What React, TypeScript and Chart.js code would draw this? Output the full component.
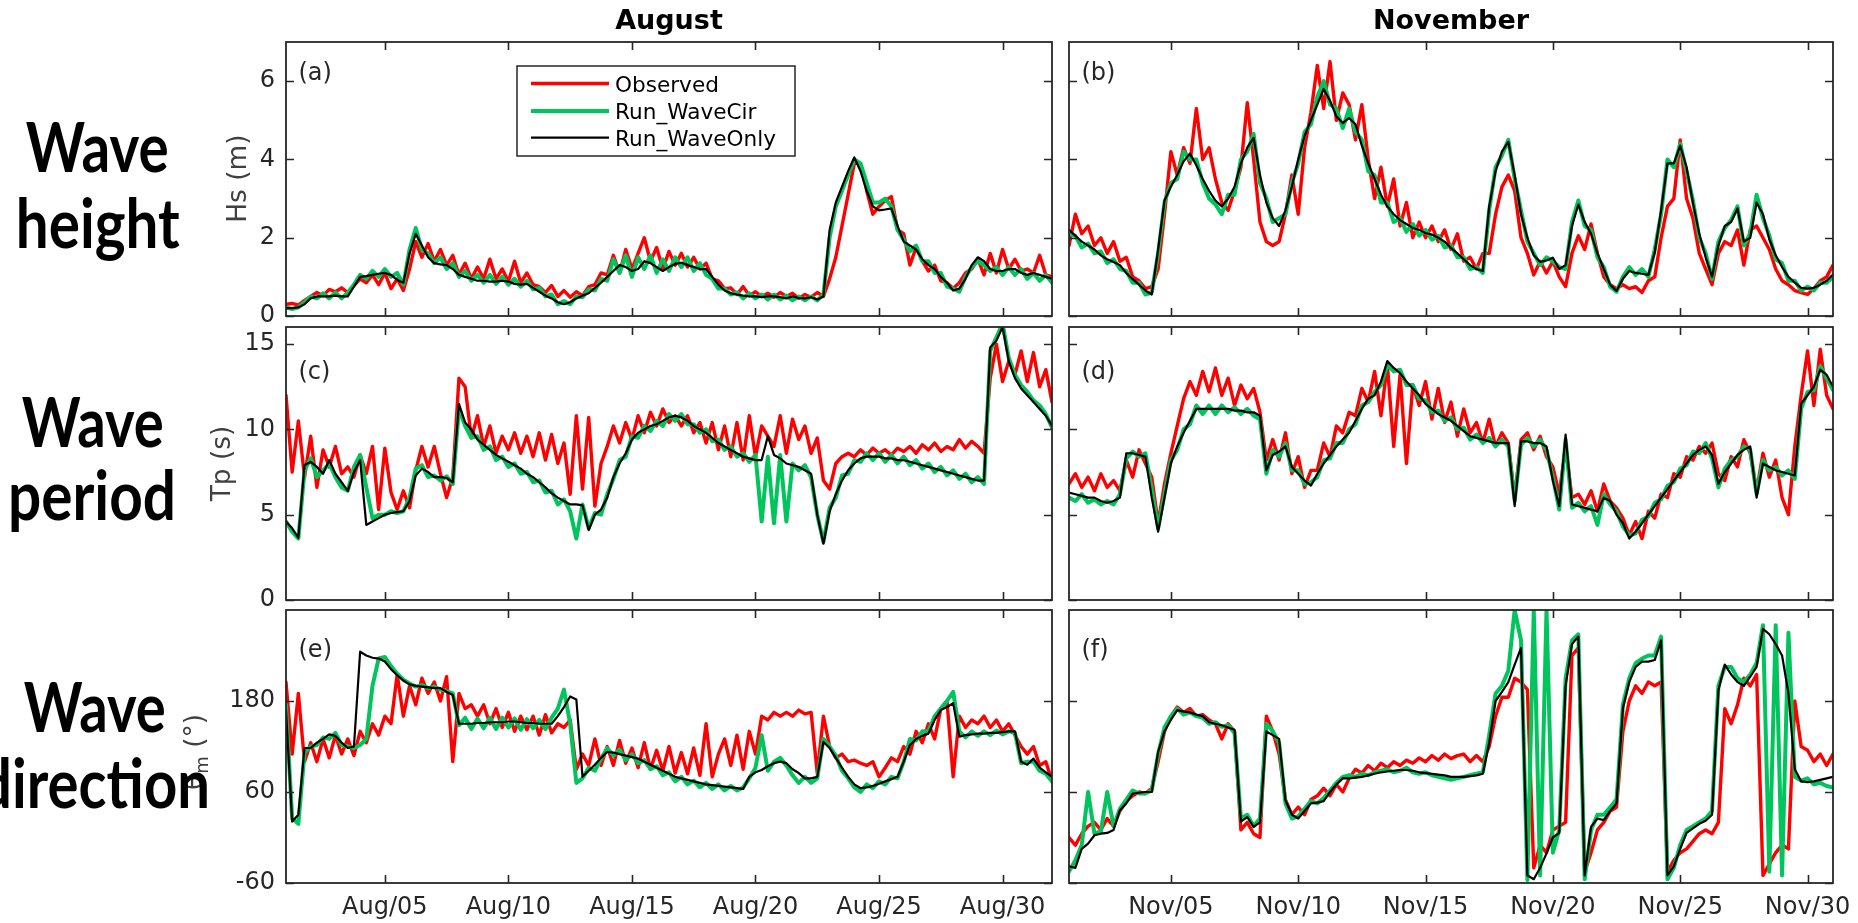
import React, { useEffect, useRef } from "react";
import { Chart, registerables } from "chart.js";

Chart.register(...registerables);

// ---------------- data (4 samples per day, from 00:00 of day 1) ----------------
const SAMPLES_PER_DAY = 4;

const augTickDays = [4, 9, 14, 19, 24, 29];
const augTickLabels = ["Aug/05", "Aug/10", "Aug/15", "Aug/20", "Aug/25", "Aug/30"];
const novTickDays = [4, 9, 14, 19, 24, 29];
const novTickLabels = ["Nov/05", "Nov/10", "Nov/15", "Nov/20", "Nov/25", "Nov/30"];

const hsTicks = [0, 2, 4, 6];
const tpTicks = [0, 5, 10, 15];
const dirTicks = [-60, 60, 180];

const seriesNames = ["Observed", "Run_WaveCir", "Run_WaveOnly"];

// (a) Hs, August
const hsAugObs = [
  0.30,0.32,0.28,0.40, 0.50,0.60,0.52,0.68,
  0.62,0.72,0.60,0.78, 0.95,0.85,1.05,0.80,
  1.10,0.70,0.95,0.65, 1.20,1.90,1.50,1.85,
  1.40,1.70,1.30,1.55, 1.05,1.35,0.95,1.25,
  0.95,1.45,0.95,1.20, 0.88,1.40,0.85,1.10,
  0.80,0.75,0.60,0.78, 0.50,0.65,0.48,0.62,
  0.52,0.75,0.80,1.10, 1.05,1.55,1.10,1.70,
  1.20,1.60,2.00,1.40, 1.75,1.20,1.65,1.30,
  1.60,1.25,1.50,1.20, 1.35,0.95,0.90,0.70,
  0.72,0.55,0.75,0.52, 0.62,0.50,0.58,0.48,
  0.60,0.50,0.58,0.45, 0.55,0.48,0.60,0.50,
  0.95,1.50,2.30,3.10, 3.90,3.90,3.20,2.60,
  2.80,2.95,3.05,2.20, 2.10,1.30,1.75,1.40,
  1.15,1.30,0.90,0.85, 0.70,0.85,1.10,1.20,
  1.45,1.05,1.60,1.10, 1.70,1.20,1.45,1.15,
  1.20,1.10,1.55,1.05, 1.00,
];
const hsAugCir = [
  0.22,0.18,0.22,0.35, 0.50,0.45,0.58,0.45,
  0.60,0.45,0.60,0.80, 1.05,0.95,1.15,1.00,
  1.20,1.00,1.10,0.80, 1.70,2.25,1.70,1.60,
  1.35,1.50,1.20,1.35, 1.00,1.15,0.90,1.05,
  0.85,1.05,0.82,1.00, 0.80,0.95,0.75,0.90,
  0.68,0.72,0.50,0.55, 0.30,0.38,0.30,0.50,
  0.48,0.68,0.65,0.95, 0.90,1.45,1.10,1.55,
  1.00,1.50,1.20,1.55, 1.10,1.45,1.15,1.50,
  1.25,1.50,1.15,1.35, 1.05,0.95,0.70,0.70,
  0.55,0.60,0.45,0.58, 0.45,0.55,0.42,0.55,
  0.42,0.52,0.40,0.50, 0.40,0.50,0.40,0.55,
  2.00,2.80,3.20,3.60, 4.00,3.90,3.40,2.90,
  2.90,3.00,2.80,2.20, 1.95,1.65,1.80,1.40,
  1.40,1.10,1.10,0.75, 0.70,0.62,1.00,1.25,
  1.40,1.30,1.15,1.25, 1.05,1.25,1.05,1.20,
  0.95,1.10,0.90,1.05, 0.85,
];
const hsAugOnly = [
  0.20,0.20,0.22,0.30, 0.45,0.50,0.50,0.50,
  0.52,0.50,0.50,0.75, 1.00,1.02,1.05,1.08,
  1.10,1.05,0.92,0.85, 1.60,2.10,1.80,1.50,
  1.35,1.32,1.30,1.20, 1.05,1.00,0.95,0.90,
  0.90,0.88,0.88,0.90, 0.88,0.82,0.80,0.82,
  0.72,0.62,0.52,0.45, 0.35,0.30,0.35,0.45,
  0.52,0.58,0.72,0.85, 1.00,1.15,1.30,1.25,
  1.15,1.20,1.40,1.35, 1.25,1.15,1.25,1.33,
  1.36,1.30,1.25,1.20, 1.20,1.00,0.80,0.65,
  0.58,0.55,0.52,0.50, 0.50,0.48,0.50,0.50,
  0.48,0.45,0.50,0.46, 0.45,0.48,0.42,0.50,
  2.20,2.90,3.30,3.70, 4.05,3.70,3.20,2.80,
  2.70,2.72,2.75,2.30, 1.90,1.80,1.70,1.45,
  1.30,1.20,1.00,0.85, 0.65,0.70,0.95,1.30,
  1.50,1.40,1.20,1.15, 1.15,1.20,1.20,1.10,
  1.05,1.10,1.05,1.00, 0.95,
];

// (b) Hs, November
const hsNovObs = [
  1.80,2.60,2.10,2.30, 1.80,2.00,1.60,1.90,
  1.40,1.50,1.00,0.90, 0.70,0.75,1.20,2.60,
  4.20,3.60,4.30,3.90, 5.30,4.00,4.30,3.50,
  2.90,2.70,3.20,3.80, 5.45,4.00,2.40,1.90,
  1.80,1.90,2.60,3.60, 2.60,4.30,5.20,6.40,
  5.30,6.50,5.00,5.70, 5.40,4.50,5.40,4.00,
  3.00,3.80,2.80,3.50, 2.30,2.90,2.00,2.40,
  2.00,2.30,1.90,2.20, 1.70,2.10,1.40,1.50,
  1.20,1.60,1.60,2.60, 3.30,3.60,3.20,2.00,
  1.60,1.05,1.40,1.10, 1.40,1.00,0.75,1.60,
  2.05,1.70,2.35,1.60, 1.00,0.80,0.70,0.80,
  0.70,0.75,0.60,0.90, 1.00,2.00,2.80,3.00,
  4.50,3.00,2.50,1.60, 1.20,0.80,1.60,1.90,
  1.80,2.20,1.30,2.20, 2.30,2.00,1.70,1.20,
  0.90,0.80,0.65,0.60, 0.55,0.70,0.90,1.00,
  1.30,
];
const hsNovCir = [
  2.10,2.05,1.75,1.85, 1.60,1.65,1.35,1.45,
  1.20,1.15,0.85,0.85, 0.55,0.60,1.60,2.90,
  3.40,3.50,4.20,4.00, 4.00,3.40,3.00,2.85,
  2.60,3.10,3.10,4.00, 4.20,4.65,3.40,3.00,
  2.40,2.50,2.60,3.40, 3.90,4.70,4.90,5.60,
  6.00,5.40,5.30,4.80, 5.30,4.70,4.50,3.70,
  3.60,2.90,2.90,2.40, 2.50,2.15,2.35,2.05,
  2.20,1.95,2.05,1.75, 1.80,1.50,1.50,1.20,
  1.25,1.10,2.70,3.80, 4.10,4.50,3.50,2.70,
  1.90,1.60,1.30,1.50, 1.40,1.25,1.20,2.40,
  2.95,2.30,2.20,1.50, 1.25,0.75,0.62,1.00,
  1.25,1.05,1.20,1.00, 1.70,2.60,4.00,3.80,
  4.40,3.70,2.95,2.00, 1.60,0.95,1.90,2.25,
  2.45,2.80,1.80,2.10, 3.10,2.50,2.05,1.45,
  1.35,0.90,0.90,0.65, 0.75,0.65,0.85,0.85,
  1.00,
];
const hsNovOnly = [
  2.20,2.05,1.90,1.80, 1.70,1.55,1.45,1.38,
  1.30,1.10,0.94,0.80, 0.65,0.55,1.70,2.95,
  3.30,3.60,3.95,4.15, 3.85,3.50,3.20,2.95,
  2.80,3.00,3.30,3.90, 4.30,4.55,3.60,2.90,
  2.50,2.30,2.70,3.30, 4.00,4.60,5.00,5.40,
  5.80,5.50,5.10,4.93, 5.06,4.90,4.35,3.90,
  3.50,3.10,2.80,2.60, 2.45,2.35,2.25,2.20,
  2.12,2.08,2.00,1.90, 1.74,1.60,1.45,1.30,
  1.20,1.15,2.80,3.70, 4.20,4.45,3.60,2.60,
  2.00,1.55,1.38,1.42, 1.49,1.20,1.30,2.30,
  2.85,2.40,2.10,1.60, 1.20,0.80,0.64,0.95,
  1.15,1.10,1.08,1.05, 1.62,2.70,3.90,3.90,
  4.35,3.80,2.89,2.10, 1.50,1.00,1.80,2.30,
  2.40,2.75,1.90,2.00, 2.90,2.60,1.96,1.55,
  1.25,1.00,0.85,0.72, 0.70,0.72,0.80,0.90,
  1.06,
];

// (c) Tp, August
const tpAugObs = [
  12.0,7.5,10.5,7.2, 9.6,6.6,8.8,7.8,
  9.0,7.4,7.8,7.2, 8.5,7.4,9.0,5.3,
  8.9,6.3,5.3,6.4, 5.4,7.6,9.0,7.8,
  9.0,7.4,6.0,7.2, 13.0,12.5,9.5,10.8,
  9.0,10.2,8.6,9.6, 8.8,9.8,8.6,9.6,
  8.4,9.8,8.2,9.7, 8.0,9.2,6.2,10.8,
  6.5,10.7,5.5,8.0, 9.0,10.2,9.2,10.4,
  9.4,10.8,9.8,11.0, 10.2,11.2,10.4,10.8,
  10.2,10.8,9.8,10.4, 9.2,10.4,8.8,10.2,
  8.4,10.4,8.2,10.8, 8.4,10.2,9.6,9.0,
  10.8,8.6,10.6,9.4, 10.2,8.6,9.5,7.0,
  6.5,8.0,8.4,8.6, 8.4,8.8,8.5,8.9,
  8.6,8.8,8.5,8.9, 8.7,9.0,8.6,9.1,
  8.8,9.2,8.7,9.0, 8.8,9.4,8.9,9.3,
  9.0,8.6,13.0,15.0, 12.8,14.0,13.2,14.6,
  12.8,14.5,12.5,13.5, 11.6,
];
const tpAugCir = [
  4.60,4.00,3.60,7.60, 8.30,7.20,7.60,8.00,
  7.20,6.60,6.40,7.80, 8.50,6.60,4.80,5.00,
  5.00,5.20,5.10,5.20, 6.00,7.70,7.90,7.20,
  7.30,7.00,7.25,6.80, 11.20,10.20,9.50,9.60,
  8.80,9.00,8.20,8.40, 7.80,8.00,7.40,7.50,
  6.90,7.00,6.30,6.40, 5.60,5.90,5.20,3.60,
  5.60,4.20,5.10,5.00, 6.20,7.10,8.20,8.40,
  9.60,9.50,10.20,9.90, 10.50,10.20,10.90,10.50,
  10.90,10.30,10.30,9.80, 10.00,9.30,9.40,8.80,
  9.00,8.40,8.60,8.10, 8.50,4.60,8.40,4.50,
  8.50,4.60,8.00,7.60, 7.90,7.20,5.00,3.40,
  5.40,6.00,7.30,7.40, 8.20,8.10,8.60,8.20,
  8.60,8.10,8.50,8.00, 8.40,7.90,8.20,7.70,
  8.00,7.50,7.80,7.30, 7.60,7.10,7.40,6.90,
  7.20,6.80,14.60,15.40, 16.20,14.20,13.20,12.60,
  12.20,11.70,11.40,10.90, 10.10,
];
const tpAugOnly = [
  4.60,4.20,3.65,7.90, 8.10,7.80,7.40,8.20,
  7.40,6.90,6.40,7.50, 8.20,4.40,4.60,4.80,
  5.00,5.10,5.15,5.20, 5.80,7.30,7.70,7.50,
  7.20,7.20,7.15,6.90, 11.50,10.40,10.00,9.40,
  9.10,8.80,8.50,8.30, 8.10,7.90,7.70,7.40,
  7.20,6.90,6.60,6.25, 6.00,5.80,5.60,5.60,
  5.55,4.10,5.00,5.30, 6.00,7.20,8.00,8.60,
  9.40,9.80,10.00,10.20, 10.30,10.50,10.70,10.80,
  10.70,10.50,10.20,10.00, 9.80,9.50,9.20,9.00,
  8.80,8.60,8.40,8.30, 8.20,8.20,9.60,8.50,
  8.30,8.00,7.90,7.80, 7.60,7.40,5.00,3.30,
  5.20,6.20,7.00,7.60, 8.00,8.30,8.40,8.40,
  8.40,8.30,8.30,8.20, 8.20,8.10,8.00,7.90,
  7.80,7.70,7.60,7.50, 7.40,7.30,7.20,7.10,
  7.00,7.00,14.80,15.20, 16.00,14.00,13.00,12.40,
  12.00,11.60,11.20,10.80, 10.20,
];

// (d) Tp, November
const tpNovObs = [
  6.8,7.4,6.6,7.2, 6.4,7.4,6.6,7.0,
  6.4,8.2,7.2,8.8, 8.0,7.2,4.5,6.8,
  8.6,10.2,11.8,12.8, 12.0,13.4,12.2,13.6,
  12.0,13.0,11.4,12.6, 11.8,12.4,11.0,8.2,
  9.4,8.2,9.8,7.4, 8.4,6.6,7.6,7.6,
  9.2,8.4,10.2,9.8, 11.0,10.8,12.4,11.6,
  13.4,10.8,13.8,9.0, 13.2,8.0,12.6,11.4,
  12.8,10.6,12.4,10.4, 11.6,9.6,11.2,9.8,
  10.4,9.2,10.6,9.0, 9.8,9.2,6.0,9.4,
  9.8,8.8,9.6,8.4, 7.8,6.2,9.0,6.0,
  6.2,5.6,6.4,5.2, 6.8,5.8,5.4,4.8,
  3.8,4.6,3.6,5.2, 4.8,6.2,6.0,7.4,
  7.2,8.4,8.2,9.0, 8.6,9.2,7.4,7.0,
  8.4,7.8,9.4,8.6, 6.4,8.6,7.2,8.2,
  6.0,5.0,9.0,12.0, 14.6,11.4,14.7,12.0,
  11.2,
];
const tpNovCir = [
  6.0,5.8,6.2,5.7, 5.9,5.6,5.8,5.6,
  6.2,8.3,8.7,8.4, 8.6,6.5,4.2,6.2,
  8.2,8.8,10.0,10.3, 11.4,10.9,11.4,10.9,
  11.4,11.0,11.3,10.9, 11.2,10.8,10.6,7.4,
  8.8,8.4,9.2,7.6, 7.6,6.8,6.9,7.2,
  8.2,8.3,9.2,9.2, 10.0,10.3,11.4,11.6,
  12.2,12.6,13.8,13.4, 13.5,12.6,12.6,11.8,
  11.7,11.0,11.1,10.5, 10.7,10.0,10.1,9.4,
  9.7,9.2,9.5,9.0, 9.4,9.0,5.8,9.1,
  9.5,9.0,9.4,8.8, 7.2,5.3,9.4,5.4,
  5.7,5.2,5.5,4.4, 6.2,5.6,5.2,4.3,
  3.8,3.9,4.7,4.9, 5.7,5.9,6.7,6.9,
  7.7,7.9,8.7,8.6, 9.2,8.3,6.6,7.7,
  8.2,8.4,9.0,8.8, 6.2,8.2,7.6,7.8,
  7.3,7.6,7.1,11.2, 12.2,12.3,13.7,13.0,
  12.3,
];
const tpNovOnly = [
  6.3,6.2,6.1,6.0, 6.0,5.8,5.7,5.8,
  6.0,8.6,8.6,8.5, 8.4,6.0,4.0,6.0,
  8.0,9.0,9.8,10.5, 11.2,11.2,11.2,11.2,
  11.2,11.2,11.1,11.1, 11.0,11.0,10.8,7.6,
  8.5,8.7,9.0,7.8, 7.4,7.0,6.7,7.4,
  8.0,8.5,9.0,9.4, 9.8,10.5,11.2,11.8,
  12.0,12.8,14.0,13.6, 13.3,12.8,12.4,12.0,
  11.5,11.2,10.9,10.7, 10.5,10.2,9.9,9.6,
  9.5,9.4,9.3,9.2, 9.2,9.2,5.5,9.3,
  9.3,9.2,9.2,9.0, 7.0,5.5,9.7,5.6,
  5.5,5.4,5.3,5.2, 6.0,5.8,5.0,4.5,
  3.6,4.0,4.5,5.0, 5.5,6.0,6.5,7.0,
  7.5,8.0,8.5,8.8, 9.0,8.5,6.8,7.5,
  8.0,8.5,8.8,9.0, 6.0,8.0,7.8,7.6,
  7.5,7.4,7.3,11.5, 12.0,12.5,13.5,13.2,
  12.5,
];

// (e) mean direction, August
const dirAugObs = [
  205,110,190,100, 125,100,130,105,
  135,110,130,108, 140,125,150,135,
  160,150,215,160, 200,175,210,190,
  205,180,212,100, 190,170,175,160,
  175,150,170,145, 165,140,160,142,
  160,135,162,138, 150,145,155,90,
  110,95,130,95, 120,95,128,98,
  118,92,125,90, 115,88,120,85,
  112,84,118,82, 150,80,110,130,
  95,135,90,140, 110,160,155,165,
  160,165,160,168, 163,165,85,160,
  120,105,110,100, 102,98,95,100,
  80,92,105,100, 120,110,140,125,
  150,130,170,180, 80,160,145,155,
  150,160,145,155, 140,150,135,120,
  110,120,95,100, 75,
];
const dirAugCir = [
  175,25,18,112, 120,122,132,130,
  138,122,120,118, 122,130,200,236,
  238,226,216,208, 203,199,201,197,
  199,195,193,190, 148,158,143,157,
  144,158,143,158, 145,157,142,156,
  144,155,143,158, 170,195,150,72,
  78,92,88,104, 118,108,116,102,
  110,98,102,90, 94,82,86,74,
  80,70,75,66, 72,64,70,62,
  68,62,66,78, 92,135,88,100,
  105,95,82,72, 80,72,78,130,
  120,108,88,78, 66,60,70,65,
  74,70,80,78, 100,130,128,140,
  140,160,170,180, 192,140,132,140,
  134,140,135,141, 136,140,138,98,
  100,100,88,84, 74,
];
const dirAugOnly = [
  168,21,30,118, 118,125,130,136,
  134,125,118,120, 245,240,237,236,
  232,222,214,207, 202,200,199,198,
  197,197,192,188, 150,150,150,151,
  151,152,152,152, 153,153,152,151,
  151,150,150,150, 160,172,186,182,
  80,88,96,105, 113,112,110,108,
  106,104,100,96, 92,88,84,80,
  78,76,74,72, 70,69,68,67,
  66,65,64,80, 86,89,94,98,
  100,98,90,85, 78,78,80,126,
  118,105,92,80, 70,65,66,68,
  71,74,77,80, 100,122,130,134,
  137,155,168,172, 177,133,135,136,
  137,137,138,138, 139,140,140,100,
  96,104,92,86, 80,
];

// (f) mean direction, November
const dirNovObs = [
  0,-10,5,15, 20,10,25,15,
  35,48,55,60, 58,65,100,140,
  160,172,165,170, 160,162,155,150,
  130,150,140,10, 20,5,0,160,
  140,110,50,30, 40,30,50,55,
  65,55,70,60, 78,90,85,95,
  88,98,92,100, 95,102,98,105,
  100,108,102,110, 104,108,110,100,
  108,100,120,160, 185,185,210,205,
  195,-40,-10,-20, 10,15,20,240,
  250,-45,-20,10, 20,35,40,140,
  180,200,190,205, 200,205,-45,-30,
  -20,-15,-5,5, 10,5,20,170,
  150,175,210,200, 215,-50,-35,-20,
  -10,-15,180,120, 115,100,110,95,
  110,
];
const dirNovCir = [
  -45,-30,-10,60, 5,8,60,15,
  38,50,62,58, 58,62,110,145,
  160,170,162,165, 160,158,150,152,
  146,148,138,25, 30,15,25,150,
  140,125,45,25, 28,38,48,45,
  52,62,72,80, 82,80,84,82,
  86,88,90,86, 88,92,86,84,
  86,82,80,78, 76,78,80,82,
  84,86,135,190, 200,220,300,260,
  -56,300,-50,300, -20,10,210,260,
  268,-55,10,30, 30,40,50,175,
  210,230,236,240, 240,265,-55,-40,
  -10,10,15,20, 25,35,200,225,
  225,210,205,215, 230,280,-45,280,
  -50,270,80,75, 78,70,72,68,
  66,
];
const dirNovOnly = [
  -38,-40,-15,-8, 3,5,6,10,
  36,45,58,59, 60,60,113,140,
  155,168,166,165, 162,160,152,150,
  148,145,142,21, 27,14,20,140,
  135,130,49,30, 25,35,45,46,
  48,60,70,78, 78,79,80,82,
  84,86,87,88, 89,89,88,86,
  85,84,83,82, 80,80,80,81,
  82,84,125,180, 192,205,228,250,
  -50,-55,-40,-21, 0,6,200,255,
  265,-50,14,25, 23,35,45,170,
  205,225,232,232, 234,260,-50,-38,
  -15,6,12,18, 22,30,194,228,
  215,205,200,212, 225,275,268,255,
  240,190,90,74, 73,74,76,78,
  80,
];

// ---------------- styling / layout ----------------
const RED = "#ff0000";
const GREEN = "#00c45c";
const BLACK = "#000000";
const AXIS = "#262626";
const LABEL_GRAY = "#404040";
const TICK_FONT = "'DejaVu Sans', sans-serif";

const ML = 90, MR = 26, MT = 14, MB = 50;
const COLS = [{ left: 286, width: 766 }, { left: 1069, width: 764 }];
const ROWS = [{ top: 42, height: 274 }, { top: 327, height: 273 }, { top: 610, height: 273 }];

type PanelDef = {
  col: number; row: number; days: number;
  xTicks: number[]; xLabels: string[];
  yMin: number; yMax: number; yTicks: number[];
  obs: number[]; cir: number[]; only: number[];
  showX: boolean; showY: boolean;
};

const PANELS: PanelDef[] = [
  { col: 0, row: 0, days: 31, xTicks: augTickDays, xLabels: augTickLabels, yMin: 0, yMax: 7, yTicks: hsTicks, obs: hsAugObs, cir: hsAugCir, only: hsAugOnly, showX: false, showY: true },
  { col: 1, row: 0, days: 30, xTicks: novTickDays, xLabels: novTickLabels, yMin: 0, yMax: 7, yTicks: hsTicks, obs: hsNovObs, cir: hsNovCir, only: hsNovOnly, showX: false, showY: false },
  { col: 0, row: 1, days: 31, xTicks: augTickDays, xLabels: augTickLabels, yMin: 0, yMax: 16, yTicks: tpTicks, obs: tpAugObs, cir: tpAugCir, only: tpAugOnly, showX: false, showY: true },
  { col: 1, row: 1, days: 30, xTicks: novTickDays, xLabels: novTickLabels, yMin: 0, yMax: 16, yTicks: tpTicks, obs: tpNovObs, cir: tpNovCir, only: tpNovOnly, showX: false, showY: false },
  { col: 0, row: 2, days: 31, xTicks: augTickDays, xLabels: augTickLabels, yMin: -60, yMax: 300, yTicks: dirTicks, obs: dirAugObs, cir: dirAugCir, only: dirAugOnly, showX: true, showY: true },
  { col: 1, row: 2, days: 30, xTicks: novTickDays, xLabels: novTickLabels, yMin: -60, yMax: 300, yTicks: dirTicks, obs: dirNovObs, cir: dirNovCir, only: dirNovOnly, showX: true, showY: false },
];

const boxPlugin = {
  id: "matlabBox",
  afterDraw(chart: any) {
    const { ctx, chartArea: a, scales } = chart;
    const TL = 8;
    ctx.save();
    ctx.strokeStyle = AXIS;
    ctx.lineWidth = 1.6;
    ctx.beginPath();
    scales.x.ticks.forEach((t: any) => {
      const px = Math.round(scales.x.getPixelForValue(t.value)) + 0.5;
      ctx.moveTo(px, a.bottom); ctx.lineTo(px, a.bottom - TL);
      ctx.moveTo(px, a.top); ctx.lineTo(px, a.top + TL);
    });
    scales.y.ticks.forEach((t: any) => {
      const py = Math.round(scales.y.getPixelForValue(t.value)) + 0.5;
      ctx.moveTo(a.left, py); ctx.lineTo(a.left + TL, py);
      ctx.moveTo(a.right, py); ctx.lineTo(a.right - TL, py);
    });
    ctx.stroke();
    ctx.lineWidth = 1.8;
    ctx.strokeRect(a.left, a.top, a.right - a.left, a.bottom - a.top);
    ctx.restore();
  },
};

function buildConfig(p: PanelDef): any {
  const pts = (arr: number[]) => arr.map((v, i) => ({ x: i / SAMPLES_PER_DAY, y: v }));
  const font = { family: TICK_FONT, size: 24 };
  return {
    type: "line",
    data: {
      datasets: [
        { label: seriesNames[2], data: pts(p.only), borderColor: BLACK, borderWidth: 2.2, order: 1, clip: 0 },
        { label: seriesNames[1], data: pts(p.cir), borderColor: GREEN, borderWidth: 4, order: 2, clip: 0 },
        { label: seriesNames[0], data: pts(p.obs), borderColor: RED, borderWidth: 3.4, order: 3, clip: 0 },
      ],
    },
    options: {
      animation: false,
      responsive: false,
      maintainAspectRatio: false,
      events: [],
      elements: {
        point: { radius: 0, hoverRadius: 0 },
        line: { tension: 0, borderJoinStyle: "round", borderCapStyle: "round", fill: false },
      },
      layout: { padding: { top: MT, right: MR, left: 0, bottom: 0 } },
      plugins: { legend: { display: false }, tooltip: { enabled: false }, title: { display: false } },
      scales: {
        x: {
          type: "linear",
          min: 0,
          max: p.days,
          grid: { display: false, drawTicks: false },
          border: { display: false },
          afterBuildTicks: (s: any) => { s.ticks = p.xTicks.map((v) => ({ value: v })); },
          afterFit: (s: any) => { s.height = MB; s.paddingLeft = 0; s.paddingRight = 0; },
          ticks: {
            display: p.showX, autoSkip: false, maxRotation: 0, minRotation: 0,
            padding: 10, color: AXIS, font,
            callback: (_v: any, i: number) => p.xLabels[i],
          },
        },
        y: {
          type: "linear",
          min: p.yMin,
          max: p.yMax,
          grid: { display: false, drawTicks: false },
          border: { display: false },
          afterBuildTicks: (s: any) => { s.ticks = p.yTicks.map((v) => ({ value: v })); },
          afterFit: (s: any) => { s.width = ML; s.paddingTop = 0; s.paddingBottom = 0; },
          ticks: { display: p.showY, padding: 11, color: AXIS, font, callback: (v: any) => String(v) },
        },
      },
    },
    plugins: [boxPlugin],
  };
}

function Panel({ p }: { p: PanelDef }) {
  const ref = useRef<HTMLCanvasElement | null>(null);
  useEffect(() => {
    if (!ref.current) return;
    const chart = new Chart(ref.current, buildConfig(p));
    return () => chart.destroy();
  }, [p]);
  const c = COLS[p.col], r = ROWS[p.row];
  const w = c.width + ML + MR, h = r.height + MT + MB;
  return (
    <canvas
      ref={ref}
      width={w}
      height={h}
      style={{ position: "absolute", left: c.left - ML, top: r.top - MT, width: w, height: h }}
    />
  );
}

const panelLetters = ["(a)", "(b)", "(c)", "(d)", "(e)", "(f)"];
const letterBaselines = [80, 379, 657];

export default function App() {
  const bigFont = "Lato, 'Open Sans', sans-serif";
  return (
    <div style={{ position: "absolute", left: 0, top: 0, width: 1858, height: 923, overflow: "hidden", background: "#fff" }}>
      {PANELS.map((p, i) => <Panel key={i} p={p} />)}
      <svg width={1858} height={923} style={{ position: "absolute", left: 0, top: 0, pointerEvents: "none" }}>
        {/* column titles */}
        <g fontFamily={TICK_FONT} fontWeight="bold" fontSize={27} fill="#000" textAnchor="middle">
          <text x={669} y={29}>August</text>
          <text x={1451} y={29}>November</text>
        </g>
        {/* y-axis titles */}
        <g fontFamily={TICK_FONT} fontSize={26.4} fill={LABEL_GRAY} textAnchor="middle">
          <text transform="translate(245.5,178.6) rotate(-90)">Hs (m)</text>
          <text transform="translate(229.5,463.5) rotate(-90)">Tp (s)</text>
          <text transform="translate(202.5,752) rotate(-90)">
            θ<tspan fontSize={18} dy={5}>m</tspan><tspan dy={-5}> (°)</tspan>
          </text>
        </g>
        {/* panel letters */}
        <g fontFamily={TICK_FONT} fontSize={24} fill={AXIS}>
          {panelLetters.map((t, i) => (
            <text key={t} x={COLS[i % 2].left + 12.5} y={letterBaselines[Math.floor(i / 2)]}>{t}</text>
          ))}
        </g>
        {/* legend */}
        <g>
          <rect x={517} y={66} width={278} height={90} fill="#fff" stroke={AXIS} strokeWidth={1.5} />
          <line x1={531} y1={83.5} x2={609} y2={83.5} stroke={RED} strokeWidth={3.4} />
          <line x1={531} y1={111} x2={609} y2={111} stroke={GREEN} strokeWidth={4} />
          <line x1={531} y1={137.7} x2={609} y2={137.7} stroke={BLACK} strokeWidth={2.2} />
          <g fontFamily={TICK_FONT} fontSize={21.6} fill="#000">
            <text x={615} y={91.5}>{seriesNames[0]}</text>
            <text x={615} y={119}>{seriesNames[1]}</text>
            <text x={615} y={145.5}>{seriesNames[2]}</text>
          </g>
        </g>
        {/* row labels */}
        <g fontFamily={bigFont} fontWeight="bold" fontSize={68} fill="#000">
          <text x={25.7} y={172} textLength={143} lengthAdjust="spacingAndGlyphs">Wave</text>
          <text x={15.8} y={248} textLength={164} lengthAdjust="spacingAndGlyphs">height</text>
          <text x={21.7} y={446.7} textLength={142} lengthAdjust="spacingAndGlyphs">Wave</text>
          <text x={8} y={520} textLength={168} lengthAdjust="spacingAndGlyphs">period</text>
          <text x={23.7} y={731.7} textLength={142} lengthAdjust="spacingAndGlyphs">Wave</text>
          <text x={-21} y={808} textLength={231} lengthAdjust="spacingAndGlyphs">direction</text>
        </g>
      </svg>
    </div>
  );
}
